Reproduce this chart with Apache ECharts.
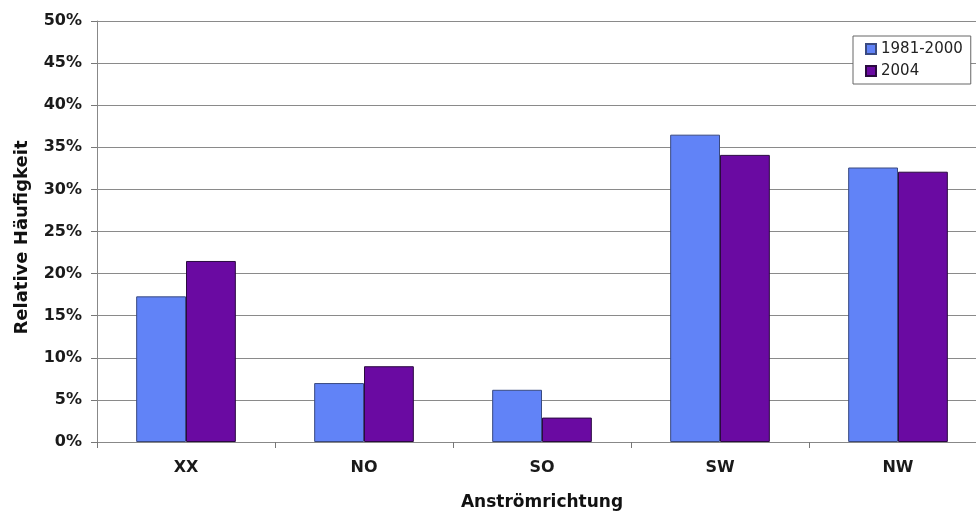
<!DOCTYPE html>
<html><head><meta charset="utf-8">
<script src="https://cdn.jsdelivr.net/npm/echarts@6/dist/echarts.min.js"></script>
<style>html,body{margin:0;padding:0;background:#fff}#c{width:976px;height:512px}</style>
</head><body><div id="c"></div>
<script>
const categories = ['XX', 'NO', 'SO', 'SW', 'NW'];
const series1981 = [17.3, 7.0, 6.2, 36.5, 32.6];
const series2004 = [21.5, 9.0, 2.9, 34.1, 32.1];
const seriesNames = ['1981-2000', '2004'];
const yTicks = [0, 5, 10, 15, 20, 25, 30, 35, 40, 45, 50];

const chart = echarts.init(document.getElementById('c'));
const font = 'DejaVu Sans, sans-serif';
chart.setOption({
  animation: false,
  backgroundColor: '#fff',
  grid: { left: 97, top: 21, right: -11, bottom: 70, containLabel: false, outerBoundsMode: 'none' },
  legend: {
    left: 853, top: 36, orient: 'vertical', itemWidth: 10, itemHeight: 10, itemGap: 6,
    backgroundColor: '#fff', borderColor: '#666', borderWidth: 1, padding: [5, 8, 5, 12],
    textStyle: { fontFamily: font, fontSize: 15, color: '#222', lineHeight: 16 },
    data: seriesNames.map(n => ({ name: n, icon: 'rect' }))
  },
  xAxis: {
    type: 'category', data: categories,
    name: 'Anströmrichtung', nameLocation: 'middle', nameGap: 52,
    nameTextStyle: { fontFamily: font, fontSize: 17, fontWeight: 'bold', color: '#111' },
    axisLine: { lineStyle: { color: '#888', width: 1 } },
    axisTick: { show: true, length: 6, lineStyle: { color: '#777' } },
    axisLabel: { fontFamily: font, fontSize: 16, fontWeight: 'bold', color: '#1a1a1a', margin: 18 }
  },
  yAxis: {
    type: 'value', min: yTicks[0], max: yTicks[yTicks.length - 1], interval: 5,
    name: 'Relative Häufigkeit', nameLocation: 'middle', nameGap: 66, nameRotate: 90,
    nameTextStyle: { fontFamily: font, fontSize: 18, fontWeight: 'bold', color: '#111', padding: [0, 12, 0, 0] },
    axisLine: { show: true, lineStyle: { color: '#888', width: 1 } },
    axisTick: { show: true, length: 6, lineStyle: { color: '#777' } },
    axisLabel: { fontFamily: font, fontSize: 16, fontWeight: 'bold', color: '#1a1a1a', margin: 15, formatter: v => v + '%' },
    splitLine: { show: true, lineStyle: { color: '#8a8a8a', width: 1 } }
  },
  series: [
    { name: seriesNames[0], type: 'bar', data: series1981, barGap: '0%', barCategoryGap: '44%',
      itemStyle: { color: '#6183f7', borderColor: '#3a4a80', borderWidth: 1 } },
    { name: seriesNames[1], type: 'bar', data: series2004, barGap: '0%', barCategoryGap: '44%',
      itemStyle: { color: '#6a0aa2', borderColor: '#2a0a40', borderWidth: 1 } }
  ]
});
</script></body></html>
